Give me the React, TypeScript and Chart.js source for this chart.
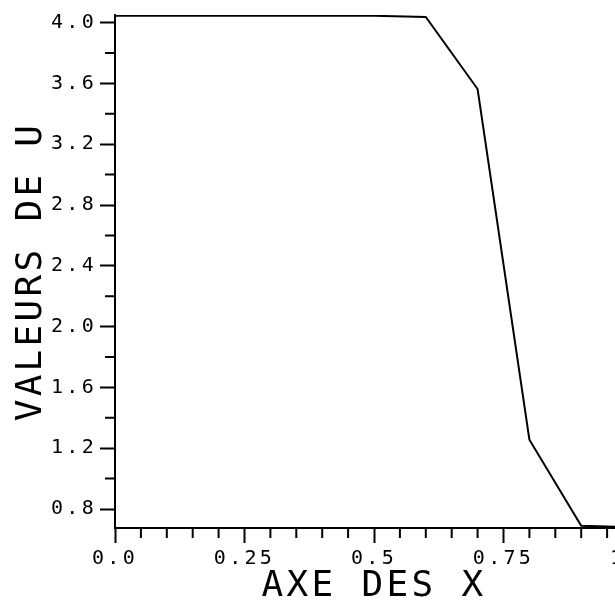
import React, { useEffect, useRef } from 'react';
import { Chart, registerables } from 'chart.js';

Chart.register(...registerables);

// ---- data ----
const xValues = [0, 0.1, 0.2, 0.3, 0.4, 0.5, 0.6, 0.7, 0.8, 0.9, 1.0];
const uValues = [4.045, 4.045, 4.045, 4.045, 4.045, 4.045, 4.037, 3.563, 1.256, 0.69, 0.68];

const xMajorTicks = [0, 0.25, 0.5, 0.75, 1.0];
const xTickLabels = ['0.0', '0.25', '0.5', '0.75', '1.0'];
const xMinorTicks = [0.05, 0.1, 0.15, 0.2, 0.3, 0.35, 0.4, 0.45, 0.55, 0.6, 0.65, 0.7, 0.8, 0.85, 0.9, 0.95];

const yMajorTicks = [0.8, 1.2, 1.6, 2.0, 2.4, 2.8, 3.2, 3.6, 4.0];
const yTickLabels = ['0.8', '1.2', '1.6', '2.0', '2.4', '2.8', '3.2', '3.6', '4.0'];
const yMinorTicks = [1.0, 1.4, 1.8, 2.2, 2.6, 3.0, 3.4, 3.8];

const xTitle = 'AXE DES X';
const yTitle = 'VALEURS DE U';

const X_MIN = 0;
const X_MAX = 1.0;
const Y_MIN = 0.675;
const Y_MAX = 4.05;

const FONT = "'DejaVu Sans Mono', 'Liberation Mono', monospace";

function labelFor(values: number[], labels: string[], v: number): string {
  for (let i = 0; i < values.length; i++) {
    if (Math.abs(values[i] - v) < 1e-9) return labels[i];
  }
  return '';
}

const spacingPlugin = {
  id: 'letterSpacing',
  beforeDraw(chart: any) {
    const ctx: any = chart.ctx;
    if ('letterSpacing' in ctx) ctx.letterSpacing = '3.3px';
  },
};

const minorTicksPlugin = {
  id: 'minorTicks',
  afterDraw(chart: any) {
    const { ctx, chartArea, scales } = chart;
    const xs = scales.x;
    const ys = scales.y;
    ctx.save();
    ctx.strokeStyle = '#000';
    ctx.lineWidth = 2;
    ctx.beginPath();
    for (const v of yMinorTicks) {
      const py = ys.getPixelForValue(v);
      ctx.moveTo(chartArea.left - 10, py);
      ctx.lineTo(chartArea.left, py);
    }
    for (const v of xMinorTicks) {
      const px = xs.getPixelForValue(v);
      ctx.moveTo(px, chartArea.bottom);
      ctx.lineTo(px, chartArea.bottom + 10);
    }
    ctx.stroke();
    ctx.restore();
  },
};

export default function App() {
  const canvasRef = useRef<HTMLCanvasElement | null>(null);

  useEffect(() => {
    const canvas = canvasRef.current;
    if (!canvas) return;
    const points = xValues.map((x, i) => ({ x, y: uValues[i] }));
    const chart = new Chart(canvas, {
      type: 'line',
      data: {
        datasets: [
          {
            data: points,
            borderColor: '#000',
            borderWidth: 2,
            pointRadius: 0,
            tension: 0,
            fill: false,
          },
        ],
      },
      options: {
        animation: false,
        responsive: false,
        devicePixelRatio: 1,
        layout: { padding: { left: 0, top: 13, right: 25, bottom: 0 } },
        plugins: {
          legend: { display: false },
          tooltip: { enabled: false },
          title: { display: false },
        },
        scales: {
          x: {
            type: 'linear',
            min: X_MIN,
            max: X_MAX,
            afterBuildTicks: (scale: any) => {
              scale.ticks = xMajorTicks.map((v) => ({ value: v }));
            },
            afterFit: (scale: any) => {
              scale.height = 77;
            },
            grid: {
              display: true,
              drawOnChartArea: false,
              drawTicks: true,
              tickLength: 15,
              tickWidth: 2,
              tickColor: '#000',
            },
            border: { display: true, color: '#000', width: 2 },
            ticks: {
              autoSkip: false,
              maxRotation: 0,
              minRotation: 0,
              padding: 4,
              color: '#000',
              font: { family: FONT, size: 20 },
              callback: (v: any) => labelFor(xMajorTicks, xTickLabels, Number(v)),
            },
            title: {
              display: true,
              text: xTitle,
              color: '#000',
              font: { family: FONT, size: 36, lineHeight: 1 },
              padding: { top: 0, bottom: 0 },
            },
          },
          y: {
            type: 'linear',
            min: Y_MIN,
            max: Y_MAX,
            afterBuildTicks: (scale: any) => {
              scale.ticks = yMajorTicks.map((v) => ({ value: v }));
            },
            afterFit: (scale: any) => {
              scale.width = 115;
            },
            grid: {
              display: true,
              drawOnChartArea: false,
              drawTicks: true,
              tickLength: 15,
              tickWidth: 2,
              tickColor: '#000',
            },
            border: { display: true, color: '#000', width: 2 },
            ticks: {
              autoSkip: false,
              padding: 3,
              color: '#000',
              font: { family: FONT, size: 20 },
              callback: (v: any) => labelFor(yMajorTicks, yTickLabels, Number(v)),
            },
            title: {
              display: true,
              text: yTitle,
              color: '#000',
              font: { family: FONT, size: 36, lineHeight: 1 },
              padding: { top: 14, bottom: 0 },
            },
          },
        },
      },
      plugins: [spacingPlugin, minorTicksPlugin],
    });
    return () => {
      chart.destroy();
    };
  }, []);

  return (
    <div
      style={{
        position: 'fixed',
        left: 0,
        top: 0,
        width: 615,
        height: 605,
        overflow: 'hidden',
        background: '#fff',
      }}
    >
      <canvas ref={canvasRef} width={658} height={605} style={{ display: 'block', width: 658, height: 605 }} />
    </div>
  );
}
